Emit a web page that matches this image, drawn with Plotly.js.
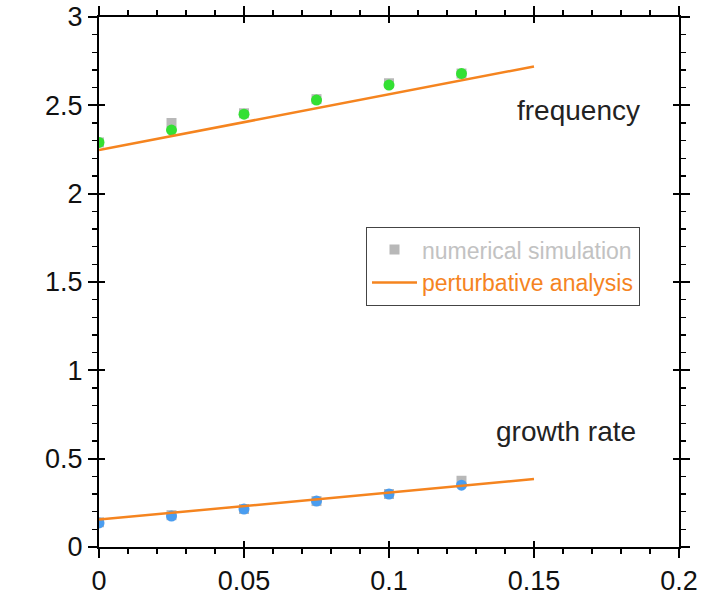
<!DOCTYPE html>
<html>
<head>
<meta charset="utf-8">
<script src="https://cdn.plot.ly/plotly-3.0.1.min.js"></script>
<style>html,body{margin:0;padding:0;background:#fff;}#chart{width:713px;height:599px;}</style>
</head>
<body>
<div id="chart"></div>
<script>
// Data
const xSim = [0, 0.025, 0.05, 0.075, 0.1, 0.125];
const freqSimGray = [2.29, 2.40, 2.455, 2.535, 2.625, 2.68];
const freqSimGreen = [2.29, 2.36, 2.45, 2.53, 2.615, 2.68];
const growthSimGray = [0.14, 0.18, 0.215, 0.26, 0.30, 0.375];
const growthSimBlue = [0.136, 0.175, 0.215, 0.26, 0.30, 0.35];
const xLine = [0, 0.15];
const freqLine = [2.247, 2.72];
const growthLine = [0.155, 0.385];
const xTickVals = [0, 0.05, 0.1, 0.15, 0.2];
const xTickText = ['0', '0.05', '0.1', '0.15', '0.2'];
const yTickVals = [0, 0.5, 1, 1.5, 2, 2.5, 3];
const yTickText = ['0', '0.5', '1', '1.5', '2', '2.5', '3'];

const orange = '#f5841f';
const gray = '#b8b8b8';
const green = '#33e033';
const blue = '#4a9df0';

const traces = [
  {x: xSim, y: freqSimGray, mode: 'markers', type: 'scatter', name: '<span style="color:#c2c2c2">numerical simulation</span>',
   marker: {symbol: 'square', size: 10, color: gray}, showlegend: true},
  {x: xSim, y: growthSimGray, mode: 'markers', type: 'scatter', showlegend: false,
   marker: {symbol: 'square', size: 10, color: gray}},
  {x: xSim, y: freqSimGreen, mode: 'markers', type: 'scatter', showlegend: false,
   marker: {symbol: 'circle', size: 11, color: green}},
  {x: xSim, y: growthSimBlue, mode: 'markers', type: 'scatter', showlegend: false,
   marker: {symbol: 'circle', size: 11, color: blue}},
  {x: xLine, y: freqLine, mode: 'lines', type: 'scatter', name: '<span style="color:#f5841f">perturbative analysis</span>',
   line: {color: orange, width: 2.5}, showlegend: true},
  {x: xLine, y: growthLine, mode: 'lines', type: 'scatter', showlegend: false,
   line: {color: orange, width: 2.5}}
];

const font = {family: 'Liberation Sans, Arial, sans-serif', color: '#111'};

const layout = {
  width: 713, height: 599,
  margin: {l: 99, r: 34, t: 17, b: 52},
  paper_bgcolor: '#fff', plot_bgcolor: '#fff',
  font: font,
  showlegend: true,
  legend: {x: 0.46, y: 0.604, xanchor: 'left', yanchor: 'top',
    bgcolor: '#fff', bordercolor: '#444', borderwidth: 1.2,
    font: {family: 'Liberation Sans, Arial, sans-serif', size: 23, color: '#999'},
    itemwidth: 45, tracegroupgap: 0},
  xaxis: {range: [0, 0.2], tickvals: xTickVals, ticktext: xTickText,
    showgrid: false, zeroline: false, showline: true, linecolor: '#000', linewidth: 2,
    mirror: 'ticks', ticks: 'outside', ticklen: 9, tickwidth: 2, tickcolor: '#000',
    minor: {dtick: 0.01, ticks: 'outside', ticklen: 5, tickwidth: 1.5, tickcolor: '#000', showgrid: false},
    tickfont: {size: 27, color: '#111'}},
  yaxis: {range: [0, 3], tickvals: yTickVals, ticktext: yTickText,
    showgrid: false, zeroline: false, showline: true, linecolor: '#000', linewidth: 2,
    mirror: 'ticks', ticks: 'outside', ticklen: 9, tickwidth: 2, tickcolor: '#000',
    minor: {dtick: 0.1, ticks: 'outside', ticklen: 5, tickwidth: 1.5, tickcolor: '#000', showgrid: false},
    tickfont: {size: 27, color: '#111'}},
  xaxis2: {range: [0, 0.2], overlaying: 'x', tickvals: xTickVals, showticklabels: false,
    showgrid: false, zeroline: false, showline: false, mirror: 'ticks', ticks: 'inside', ticklen: 6, tickwidth: 2, tickcolor: '#000'},
  yaxis2: {range: [0, 3], overlaying: 'y', tickvals: yTickVals, showticklabels: false,
    showgrid: false, zeroline: false, showline: false, mirror: 'ticks', ticks: 'inside', ticklen: 6, tickwidth: 2, tickcolor: '#000'},
  annotations: [
    {x: 0.826, y: 2.473, xref: 'paper', yref: 'y', xanchor: 'center', yanchor: 'middle', text: 'frequency', showarrow: false,
     font: {family: 'Liberation Sans, Arial, sans-serif', size: 28, color: '#222'}},
    {x: 0.805, y: 0.651, xref: 'paper', yref: 'y', xanchor: 'center', yanchor: 'middle', text: 'growth rate', showarrow: false,
     font: {family: 'Liberation Sans, Arial, sans-serif', size: 28, color: '#222'}}
  ]
};

// invisible trace to activate the overlay axes
traces.push({x: [0], y: [0], xaxis: 'x2', yaxis: 'y2', mode: 'markers', marker: {opacity: 0}, showlegend: false, hoverinfo: 'skip'});

Plotly.newPlot('chart', traces, layout, {displayModeBar: false, staticPlot: true});
</script>
</body>
</html>
